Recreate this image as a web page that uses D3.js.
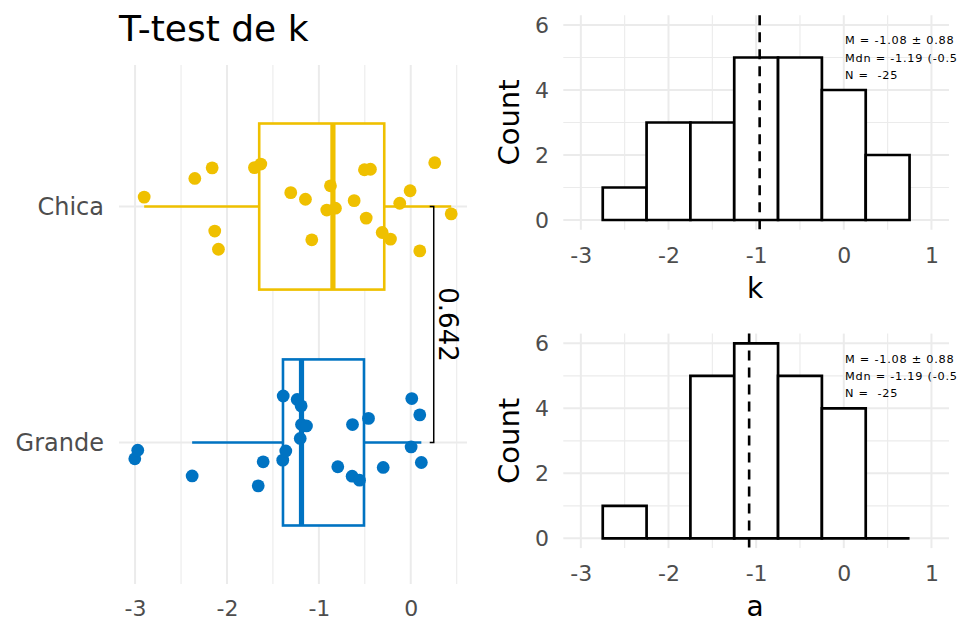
<!DOCTYPE html>
<html><head><meta charset="utf-8">
<script src="https://cdn.jsdelivr.net/npm/d3@7"></script>
<style>
body{margin:0;background:#fff}
text{font-family:"DejaVu Sans",sans-serif}
</style>
</head><body>
<svg id="c" width="964" height="637"></svg>
<script>
// ---------- data ----------
const groups = ["Chica", "Grande"];
const groupColors = ["#EFC000", "#0073C2"];
const chicaK = [-2.901,-2.350,-2.161,-2.133,-2.093,-1.701,-1.632,-1.306,-1.146,-1.077,-0.914,-0.874,-0.820,-0.616,-0.504,-0.485,-0.439,-0.311,-0.221,-0.120,-0.007,0.098,0.261,0.440];
const chicaJitter = [-0.040,-0.119,-0.164,0.104,0.181,-0.165,-0.180,-0.059,-0.031,0.141,0.015,-0.088,0.007,-0.025,-0.156,0.049,-0.158,0.110,0.138,-0.014,-0.067,0.188,-0.186,0.031];
const grandeK = [-3.003,-2.971,-2.379,-1.660,-1.606,-1.393,-1.388,-1.360,-1.236,-1.203,-1.193,-1.189,-1.135,-0.794,-0.638,-0.634,-0.558,-0.460,-0.300,0.004,0.011,0.098,0.115];
const grandeJitter = [0.069,0.033,0.142,0.184,0.082,0.075,-0.197,0.036,-0.182,-0.017,-0.155,-0.076,-0.070,0.103,0.143,-0.076,0.160,-0.102,0.106,0.019,-0.186,-0.117,0.085];
const pValueLabel = "0.642";
const pBracketX = 0.25;
const leftXTicks = [-3, -2, -1, 0];
const leftXMinor = [-2.5, -1.5, -0.5, 0.5];
const titleText = "T-test de k";

const binEdges = [-2.75, -2.25, -1.75, -1.25, -0.75, -0.25, 0.25, 0.75];
const kCounts = [1, 3, 3, 5, 5, 4, 2];
const aCounts = [1, 0, 5, 6, 5, 4, 0];
const kMeanLine = -0.96;
const aMeanLine = -1.08;
const histXTicks = [-3, -2, -1, 0, 1];
const histXMinor = [-2.5, -1.5, -0.5, 0.5];
const histYTicks = [0, 2, 4, 6];
const histYMinor = [1, 3, 5];
const statLines = ["M = -1.08 \u00b1 0.88", "Mdn = -1.19 (-0.5", "N =  -25"];

// ---------- drawing ----------
const svg = d3.select("#c");
const gridCol = "#ebebeb", tickCol = "#4d4d4d";
const fmt = d => String(d);

// Left panel
const L = {x0: 119, x1: 467, y0: 65, y1: 584};
const xL = d3.scaleLinear().domain([-3.175, 0.612]).range([L.x0, L.x1]);
const yL = d3.scaleLinear().domain([0.4, 2.6]).range([L.y0, L.y1]);
const gL = svg.append("g");

gL.selectAll(".vminor").data(leftXMinor).join("line")
  .attr("x1", d => xL(d)).attr("x2", d => xL(d)).attr("y1", L.y0).attr("y2", L.y1)
  .attr("stroke", gridCol).attr("stroke-width", 1.1);
gL.selectAll(".vmajor").data(leftXTicks).join("line")
  .attr("x1", d => xL(d)).attr("x2", d => xL(d)).attr("y1", L.y0).attr("y2", L.y1)
  .attr("stroke", gridCol).attr("stroke-width", 2);
gL.selectAll(".hmajor").data(groups).join("line")
  .attr("x1", L.x0).attr("x2", L.x1).attr("y1", (d, i) => yL(i + 1)).attr("y2", (d, i) => yL(i + 1))
  .attr("stroke", gridCol).attr("stroke-width", 2);

const axL = gL.append("g").attr("transform", `translate(0,${L.y1})`)
  .call(d3.axisBottom(xL).tickValues(leftXTicks).tickSize(0).tickPadding(0).tickFormat(fmt));
axL.select(".domain").remove();
axL.selectAll("text").attr("font-size", 22).attr("fill", tickCol).attr("dy", null).attr("y", 32);

gL.selectAll(".ylab").data(groups).join("text")
  .attr("x", 104).attr("y", (d, i) => yL(i + 1)).attr("dy", "0.36em")
  .attr("text-anchor", "end").attr("font-size", 24).attr("fill", tickCol).text(d => d);

const datasets = [
  {vals: chicaK, jit: chicaJitter},
  {vals: grandeK, jit: grandeJitter}
];
datasets.forEach((ds, i) => {
  const col = groupColors[i];
  const s = ds.vals.slice().sort(d3.ascending);
  const q1 = d3.quantile(s, 0.25), med = d3.quantile(s, 0.5), q3 = d3.quantile(s, 0.75);
  const iqr = q3 - q1;
  const lo = d3.min(s.filter(v => v >= q1 - 1.5 * iqr));
  const hi = d3.max(s.filter(v => v <= q3 + 1.5 * iqr));
  const cy = yL(i + 1);
  const hh = yL(i + 1 + 0.352) - cy;
  gL.append("line").attr("x1", xL(lo)).attr("x2", xL(q1)).attr("y1", cy).attr("y2", cy)
    .attr("stroke", col).attr("stroke-width", 2.6);
  gL.append("line").attr("x1", xL(q3)).attr("x2", xL(hi)).attr("y1", cy).attr("y2", cy)
    .attr("stroke", col).attr("stroke-width", 2.6);
  gL.append("rect").attr("x", xL(q1)).attr("y", cy - hh).attr("width", xL(q3) - xL(q1)).attr("height", 2 * hh)
    .attr("fill", "#fff").attr("stroke", col).attr("stroke-width", 2.6);
  gL.append("line").attr("x1", xL(med)).attr("x2", xL(med)).attr("y1", cy - hh).attr("y2", cy + hh)
    .attr("stroke", col).attr("stroke-width", 5.2);
  gL.selectAll(null).data(ds.vals).join("circle")
    .attr("cx", d => xL(d)).attr("cy", (d, j) => yL(i + 1 + ds.jit[j]))
    .attr("r", 6.4).attr("fill", col);
});

const bx = xL(pBracketX);
gL.append("path")
  .attr("d", `M${bx - 4},${yL(1)}H${bx}V${yL(2)}H${bx - 4}`)
  .attr("fill", "none").attr("stroke", "#000").attr("stroke-width", 1.5);
gL.append("text").attr("transform", `translate(${bx + 15},${(yL(1) + yL(2)) / 2}) rotate(90)`)
  .attr("text-anchor", "middle").attr("dy", "0.36em").attr("font-size", 26).attr("fill", "#000")
  .text(pValueLabel);

svg.append("text").attr("x", 119).attr("y", 41).attr("font-size", 36).attr("fill", "#000").text(titleText);

function hist(y0, y1, counts, meanLine, xlabel) {
  const P = {x0: 563.3, x1: 949, y0: y0, y1: y1};
  const x = d3.scaleLinear().domain([-3.2, 1.2]).range([P.x0, P.x1]);
  const y = d3.scaleLinear().domain([-0.3, 6.3]).range([P.y1, P.y0]);
  const g = svg.append("g");
  g.selectAll(".vmin").data(histXMinor).join("line")
    .attr("x1", d => x(d)).attr("x2", d => x(d)).attr("y1", P.y0).attr("y2", P.y1)
    .attr("stroke", gridCol).attr("stroke-width", 1.1);
  g.selectAll(".hmin").data(histYMinor).join("line")
    .attr("y1", d => y(d)).attr("y2", d => y(d)).attr("x1", P.x0).attr("x2", P.x1)
    .attr("stroke", gridCol).attr("stroke-width", 1.1);
  g.selectAll(".vmaj").data(histXTicks).join("line")
    .attr("x1", d => x(d)).attr("x2", d => x(d)).attr("y1", P.y0).attr("y2", P.y1)
    .attr("stroke", gridCol).attr("stroke-width", 2);
  g.selectAll(".hmaj").data(histYTicks).join("line")
    .attr("y1", d => y(d)).attr("y2", d => y(d)).attr("x1", P.x0).attr("x2", P.x1)
    .attr("stroke", gridCol).attr("stroke-width", 2);

  const ax = g.append("g").attr("transform", `translate(0,${P.y1})`)
    .call(d3.axisBottom(x).tickValues(histXTicks).tickSize(0).tickPadding(0).tickFormat(fmt));
  ax.select(".domain").remove();
  ax.selectAll("text").attr("font-size", 22).attr("fill", tickCol).attr("dy", null).attr("y", 33);
  const ay = g.append("g").attr("transform", `translate(549,0)`)
    .call(d3.axisLeft(y).tickValues(histYTicks).tickSize(0).tickPadding(0).tickFormat(fmt));
  ay.select(".domain").remove();
  ay.selectAll("text").attr("font-size", 22).attr("fill", tickCol).attr("x", 0);

  const bins = counts.map((c, i) => ({x0: binEdges[i], x1: binEdges[i + 1], c: c}));
  g.selectAll(".bar").data(bins).join("path")
    .attr("d", d => `M${x(d.x0)},${y(0)}V${y(d.c)}H${x(d.x1)}V${y(0)}Z`)
    .attr("fill", "#fff").attr("stroke", "#000").attr("stroke-width", 2.7).attr("stroke-linejoin", "miter");

  g.append("line").attr("x1", x(meanLine)).attr("x2", x(meanLine)).attr("y1", P.y0).attr("y2", P.y1)
    .attr("stroke", "#000").attr("stroke-width", 2.6).attr("stroke-dasharray", "10,7");

  g.selectAll(".stat").data(statLines).join("text")
    .attr("x", 845).attr("y", (d, i) => P.y0 + 29 + i * 17.3)
    .attr("font-size", 11.3).attr("letter-spacing", 0.75).attr("fill", "#000")
    .style("white-space", "pre").text(d => d);

  g.append("text").attr("transform", `translate(519,${(P.y0 + P.y1) / 2}) rotate(-90)`)
    .attr("text-anchor", "middle").attr("font-size", 29).attr("fill", "#000").text("Count");
  g.append("text").attr("x", (P.x0 + P.x1) / 2 - 1).attr("y", P.y1 + 68)
    .attr("text-anchor", "middle").attr("font-size", 28).attr("fill", "#000").text(xlabel);
}
hist(15.25, 229.75, kCounts, kMeanLine, "k");
hist(333.6, 548.1, aCounts, aMeanLine, "a");
</script>
</body></html>
